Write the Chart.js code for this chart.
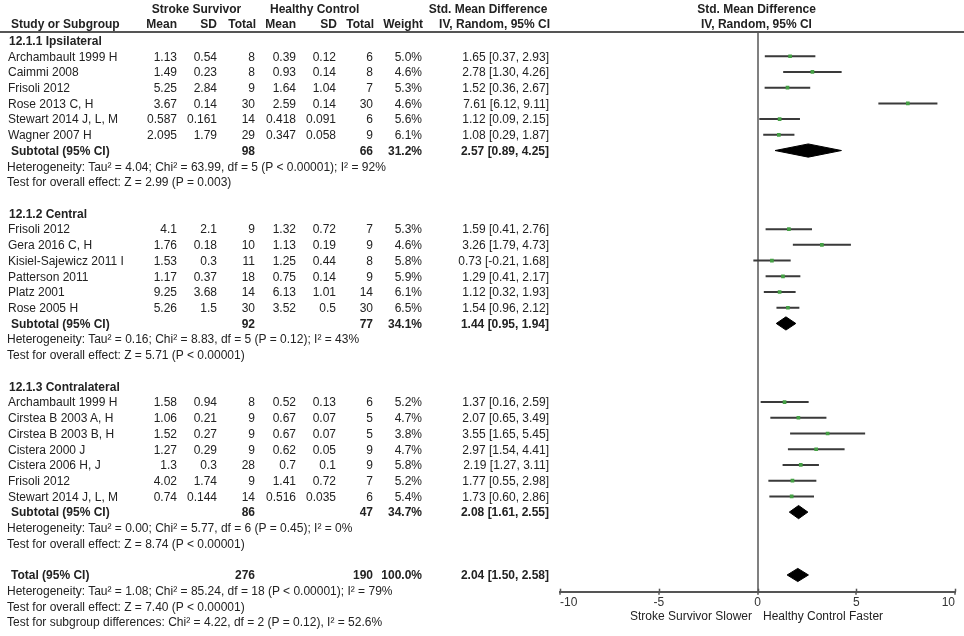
<!DOCTYPE html>
<html>
<head>
<meta charset="utf-8">
<script src="https://cdn.jsdelivr.net/npm/chart.js"></script>
<style>
  body { margin: 0; background: #fff; width: 964px; height: 636px; overflow: hidden; position: relative;
         font-family: Arial, "Liberation Sans", sans-serif; font-size: 12px; color: #222; }
  #plot { position: absolute; left: 0; top: 0; }
  .t { position: absolute; height: 16px; line-height: 16px; white-space: nowrap; }
  .b { font-weight: bold; }
  .hline { position: absolute; left: 0; width: 964px; height: 2px; background: #555; }
</style>
</head>
<body>
<canvas id="plot" width="964" height="636"></canvas>
<script>
// ---- data ----
const groupNames = ["12.1.1 Ipsilateral", "12.1.2 Central", "12.1.3 Contralateral"];

const studyNames = [
  "Archambault 1999 H", "Caimmi 2008", "Frisoli 2012", "Rose 2013 C, H", "Stewart 2014 J, L, M", "Wagner 2007 H",
  "Frisoli 2012", "Gera 2016 C, H", "Kisiel-Sajewicz 2011 I", "Patterson 2011", "Platz 2001", "Rose 2005 H",
  "Archambault 1999 H", "Cirstea B 2003 A, H", "Cirstea B 2003 B, H", "Cistera 2000 J", "Cistera 2006 H, J", "Frisoli 2012", "Stewart 2014 J, L, M"
];
const studyGroup = [0, 0, 0, 0, 0, 0, 1, 1, 1, 1, 1, 1, 2, 2, 2, 2, 2, 2, 2];

const ssMean = [1.13, 1.49, 5.25, 3.67, 0.587, 2.095, 4.1, 1.76, 1.53, 1.17, 9.25, 5.26, 1.58, 1.06, 1.52, 1.27, 1.3, 4.02, 0.74];
const ssSD   = [0.54, 0.23, 2.84, 0.14, 0.161, 1.79, 2.1, 0.18, 0.3, 0.37, 3.68, 1.5, 0.94, 0.21, 0.27, 0.29, 0.3, 1.74, 0.144];
const ssN    = [8, 8, 9, 30, 14, 29, 9, 10, 11, 18, 14, 30, 8, 9, 9, 9, 28, 9, 14];
const hcMean = [0.39, 0.93, 1.64, 2.59, 0.418, 0.347, 1.32, 1.13, 1.25, 0.75, 6.13, 3.52, 0.52, 0.67, 0.67, 0.62, 0.7, 1.41, 0.516];
const hcSD   = [0.12, 0.14, 1.04, 0.14, 0.091, 0.058, 0.72, 0.19, 0.44, 0.14, 1.01, 0.5, 0.13, 0.07, 0.07, 0.05, 0.1, 0.72, 0.035];
const hcN    = [6, 8, 7, 30, 6, 9, 7, 9, 8, 9, 14, 30, 6, 5, 5, 9, 9, 7, 6];
const weight = [5.0, 4.6, 5.3, 4.6, 5.6, 6.1, 5.3, 4.6, 5.8, 5.9, 6.1, 6.5, 5.2, 4.7, 3.8, 4.7, 5.8, 5.2, 5.4];
const smd    = [1.65, 2.78, 1.52, 7.61, 1.12, 1.08, 1.59, 3.26, 0.73, 1.29, 1.12, 1.54, 1.37, 2.07, 3.55, 2.97, 2.19, 1.77, 1.73];
const ciLow  = [0.37, 1.30, 0.36, 6.12, 0.09, 0.29, 0.41, 1.79, -0.21, 0.41, 0.32, 0.96, 0.16, 0.65, 1.65, 1.54, 1.27, 0.55, 0.60];
const ciHigh = [2.93, 4.26, 2.67, 9.11, 2.15, 1.87, 2.76, 4.73, 1.68, 2.17, 1.93, 2.12, 2.59, 3.49, 5.45, 4.41, 3.11, 2.98, 2.86];

const subSsN    = [98, 92, 86];
const subHcN    = [66, 77, 47];
const subWeight = [31.2, 34.1, 34.7];
const subSmd    = [2.57, 1.44, 2.08];
const subLow    = [0.89, 0.95, 1.61];
const subHigh   = [4.25, 1.94, 2.55];
const subHet = [
  "Heterogeneity: Tau² = 4.04; Chi² = 63.99, df = 5 (P < 0.00001); I² = 92%",
  "Heterogeneity: Tau² = 0.16; Chi² = 8.83, df = 5 (P = 0.12); I² = 43%",
  "Heterogeneity: Tau² = 0.00; Chi² = 5.77, df = 6 (P = 0.45); I² = 0%"
];
const subEffect = [
  "Test for overall effect: Z = 2.99 (P = 0.003)",
  "Test for overall effect: Z = 5.71 (P < 0.00001)",
  "Test for overall effect: Z = 8.74 (P < 0.00001)"
];

const totalSsN = 276, totalHcN = 190, totalWeight = 100.0;
const totalSmd = 2.04, totalLow = 1.50, totalHigh = 2.58;
const totalNotes = [
  "Heterogeneity: Tau² = 1.08; Chi² = 85.24, df = 18 (P < 0.00001); I² = 79%",
  "Test for overall effect: Z = 7.40 (P < 0.00001)",
  "Test for subgroup differences: Chi² = 4.22, df = 2 (P = 0.12), I² = 52.6%"
];

const xTicks = [-10, -5, 0, 5, 10];
const xLabelLeft = "Stroke Survivor Slower";
const xLabelRight = "Healthy Control Faster";

// ---- layout ----
const ROW0 = 40.5, PITCH = 15.72;
const rowY = (i) => ROW0 + PITCH * i;
const AXIS_Y = 591.7, PLOT_TOP = 33;

function addText(txt, x, y, align, bold) {
  const d = document.createElement("div");
  d.className = "t" + (bold ? " b" : "");
  d.textContent = txt;
  d.style.top = (y - 7.7) + "px";
  if (align === "right") { d.style.left = (x - 300) + "px"; d.style.width = "300px"; d.style.textAlign = "right"; }
  else if (align === "center") { d.style.left = (x - 150) + "px"; d.style.width = "300px"; d.style.textAlign = "center"; }
  else d.style.left = x + "px";
  document.body.appendChild(d);
}

const COL = { mean1: 177, sd1: 217, n1: 255, mean2: 296, sd2: 336, n2: 373, w: 422, ci: 549 };
const ciText = (e, l, h) => `${e.toFixed(2)} [${l.toFixed(2)}, ${h.toFixed(2)}]`;

// header
addText("Stroke Survivor", 196.5, 8.3, "center", true);
addText("Healthy Control", 314.7, 8.3, "center", true);
addText("Std. Mean Difference", 488, 8.3, "center", true);
addText("Std. Mean Difference", 756.5, 8.3, "center", true);
addText("Study or Subgroup", 11, 24, "left", true);
addText("Mean", 177, 24, "right", true);
addText("SD", 217, 24, "right", true);
addText("Total", 256, 24, "right", true);
addText("Mean", 296, 24, "right", true);
addText("SD", 337, 24, "right", true);
addText("Total", 374, 24, "right", true);
addText("Weight", 423, 24, "right", true);
addText("IV, Random, 95% CI", 550, 24, "right", true);
addText("IV, Random, 95% CI", 756.5, 24, "center", true);
const hl = document.createElement("div");
hl.className = "hline"; hl.style.top = "30.7px";
document.body.appendChild(hl);

// rows of the table + rows for the plot
const studyRow = [], subRow = [];
let r = 0;
groupNames.forEach((g, gi) => {
  addText(g, 9, rowY(r), "left", true); r++;
  studyNames.forEach((name, i) => {
    if (studyGroup[i] !== gi) return;
    const y = rowY(r);
    addText(name, 8, y, "left", false);
    addText(String(ssMean[i]), COL.mean1, y, "right");
    addText(String(ssSD[i]), COL.sd1, y, "right");
    addText(String(ssN[i]), COL.n1, y, "right");
    addText(String(hcMean[i]), COL.mean2, y, "right");
    addText(String(hcSD[i]), COL.sd2, y, "right");
    addText(String(hcN[i]), COL.n2, y, "right");
    addText(weight[i].toFixed(1) + "%", COL.w, y, "right");
    addText(ciText(smd[i], ciLow[i], ciHigh[i]), COL.ci, y, "right");
    studyRow[i] = r; r++;
  });
  let y = rowY(r);
  addText("Subtotal (95% CI)", 11, y, "left", true);
  addText(String(subSsN[gi]), COL.n1, y, "right", true);
  addText(String(subHcN[gi]), COL.n2, y, "right", true);
  addText(subWeight[gi].toFixed(1) + "%", COL.w, y, "right", true);
  addText(ciText(subSmd[gi], subLow[gi], subHigh[gi]), COL.ci, y, "right", true);
  subRow[gi] = r; r++;
  addText(subHet[gi], 7, rowY(r), "left"); r++;
  addText(subEffect[gi], 7, rowY(r), "left"); r++;
  r++; // blank
});
const totalRow = r;
addText("Total (95% CI)", 11, rowY(r), "left", true);
addText(String(totalSsN), COL.n1, rowY(r), "right", true);
addText(String(totalHcN), COL.n2, rowY(r), "right", true);
addText(totalWeight.toFixed(1) + "%", COL.w, rowY(r), "right", true);
addText(ciText(totalSmd, totalLow, totalHigh), COL.ci, rowY(r), "right", true);
r++;
totalNotes.forEach((s) => { addText(s, 7, rowY(r), "left"); r++; });

addText(xLabelLeft, 752, 616, "right");
addText(xLabelRight, 763, 616, "left");

// ---- forest plot ----
const points = studyNames.map((_, i) => ({ x: smd[i], y: studyRow[i] }));
const ciSegs = [];
studyNames.forEach((_, i) => {
  ciSegs.push({ x: ciLow[i], y: studyRow[i] }, { x: ciHigh[i], y: studyRow[i] }, { x: ciHigh[i], y: null });
});
const DH = 0.42; // diamond half height in rows
const diamond = (e, l, h, row) => [
  { x: l, y: row }, { x: e, y: row - DH }, { x: h, y: row }, { x: e, y: row + DH }, { x: l, y: row }
];
const diamonds = subSmd.map((e, gi) => diamond(e, subLow[gi], subHigh[gi], subRow[gi]));
diamonds.push(diamond(totalSmd, totalLow, totalHigh, totalRow));

const upTicks = {
  id: "upTicks",
  afterDraw(chart) {
    const s = chart.scales.x, c = chart.ctx;
    c.save(); c.strokeStyle = "#555"; c.lineWidth = 1.5;
    s.ticks.forEach((t) => {
      const x = Math.round(s.getPixelForValue(t.value)) + 0.5;
      c.beginPath(); c.moveTo(x, s.top - 3); c.lineTo(x, s.top); c.stroke();
    });
    c.restore();
  }
};

new Chart(document.getElementById("plot"), {
  type: "scatter",
  data: {
    datasets: [
      { data: points, pointStyle: "rect", pointRadius: 2.6, backgroundColor: "#45a045", borderWidth: 0 },
      { data: ciSegs, showLine: true, spanGaps: false, pointRadius: 0, borderColor: "#3a3a3a", borderWidth: 2 },
      ...diamonds.map((d) => ({
        data: d, showLine: true, fill: "shape", pointRadius: 0,
        borderColor: "#000", backgroundColor: "#000", borderWidth: 1
      }))
    ]
  },
  options: {
    responsive: false,
    animation: false,
    layout: { padding: { left: 560, right: 9, top: PLOT_TOP, bottom: 0 } },
    plugins: { legend: { display: false }, tooltip: { enabled: false } },
    scales: {
      x: {
        type: "linear", min: xTicks[0], max: xTicks[xTicks.length - 1],
        afterBuildTicks: (s) => { s.ticks = xTicks.map((v) => ({ value: v })); },
        afterFit: (s) => { s.height = 636 - AXIS_Y; },
        ticks: { align: "inner", maxRotation: 0, padding: 1, color: "#333",
                 font: { family: "Arial, 'Liberation Sans', sans-serif", size: 12 } },
        grid: {
          drawOnChartArea: true,
          color: (c) => (c.tick && c.tick.value === 0 ? "#808080" : "rgba(0,0,0,0)"),
          lineWidth: 2,
          tickColor: "#555", tickLength: 3, tickWidth: 1.5
        },
        border: { color: "#555", width: 2 }
      },
      y: {
        type: "linear", display: false, reverse: true,
        min: (PLOT_TOP - ROW0) / PITCH, max: (AXIS_Y - ROW0) / PITCH
      }
    }
  },
  plugins: [upTicks]
});
</script>
</body>
</html>
